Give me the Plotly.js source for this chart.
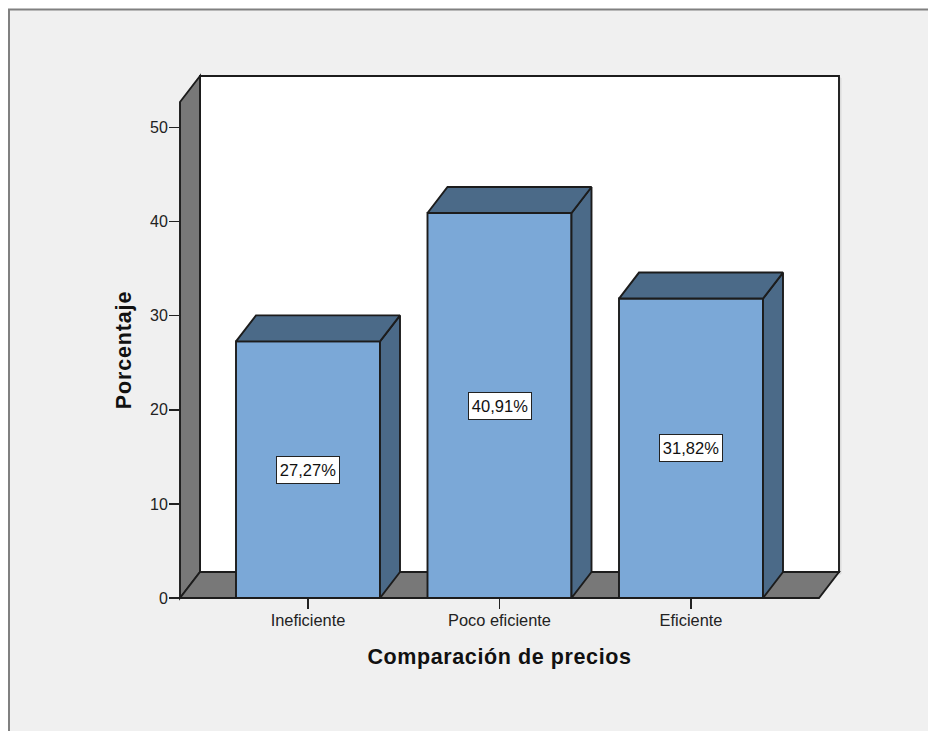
<!DOCTYPE html>
<html>
<head>
<meta charset="utf-8">
<script src="https://cdn.plot.ly/plotly-3.0.1.min.js"></script>
<style>
html,body{margin:0;padding:0;background:#fff;overflow:hidden}
.xtitle{letter-spacing:0.6px}
.ytitle{letter-spacing:0.85px}
</style>
</head>
<body>
<div id="chart" style="width:928px;height:731px"></div>
<script>
const categories = ["Ineficiente", "Poco eficiente", "Eficiente"];
const values = [27.27, 40.91, 31.82];
const valueLabels = ["27,27%", "40,91%", "31,82%"];
const yTicks = [0, 10, 20, 30, 40, 50];

const W = 928, H = 731;
const plotL = 180, plotR = 819, plotT = 102, plotB = 598;
const depthPx = 20, risePx = 26;
const pxPerCat = 191.5, pxPerUnit = 9.41;
const barWidth = 0.752;
const firstCenterPx = 308;

const xMin = (plotL - firstCenterPx) / pxPerCat;
const xMax = (plotR - firstCenterPx) / pxPerCat;
const yMax = (plotB - plotT) / pxPerUnit;
const dx = depthPx / pxPerCat, dy = risePx / pxPerUnit;
const positions = categories.map((_, i) => i);

const INK = "#1c1c1c", FRONT = "#7ba8d7", SHADE = "#4b6a88", WALL = "#787878";
const LW = 1.9;

// paper-space helpers for the chart's frame and walls
const px = v => (v - plotL) / (plotR - plotL);
const py = v => (plotB - v) / (plotB - plotT);
function poly(pts, fill, lineColor, lineWidth) {
  const path = pts.map((p, i) => (i ? "L" : "M") + px(p[0]) + "," + py(p[1])).join(" ") + " Z";
  return {type: "path", xref: "paper", yref: "paper", layer: "below", path,
          fillcolor: fill, line: {color: lineColor, width: lineWidth}};
}
const backL = plotL + depthPx, backR = plotR + depthPx, backT = plotT - risePx, backB = plotB - risePx;
const shapes = [
  poly([[9, 9.5], [W + 5, 9.5], [W + 5, H + 5], [9, H + 5]], "#f0f0f0", "#808080", 2),
  poly([[backL + 2, backT + 2], [backR + 2, backT + 2], [backR + 2, backB + 2], [backL + 2, backB + 2]], "#dcdcdc", "#dcdcdc", 1),
  poly([[backL, backT], [backR, backT], [backR, backB], [backL, backB]], "#ffffff", INK, LW),
  poly([[plotL, plotB], [backL, backB], [backL, backT], [plotL, plotT]], WALL, INK, LW),
  poly([[plotL, plotB], [backL, backB], [backR, backB], [plotR, plotB]], WALL, INK, LW)
];

// top and side faces of each bar, from the data
const topX = [], topY = [], sideX = [], sideY = [];
positions.forEach((c, i) => {
  const l = c - barWidth / 2, r = c + barWidth / 2, v = values[i];
  topX.push(l, l + dx, r + dx, r, l, null);
  topY.push(v, v + dy, v + dy, v, v, null);
  sideX.push(r, r + dx, r + dx, r, r, null);
  sideY.push(0, dy, v + dy, v, 0, null);
});
const faceTrace = (x, y) => ({
  type: "scatter", mode: "lines", x, y, fill: "toself", fillcolor: SHADE,
  line: {color: INK, width: LW}, hoverinfo: "skip", showlegend: false, cliponaxis: false
});

const traces = [
  {type: "bar", x: positions, y: values, width: barWidth, cliponaxis: false,
   marker: {color: FRONT, line: {color: INK, width: LW}}, showlegend: false},
  faceTrace(sideX, sideY),
  faceTrace(topX, topY)
];

const annotations = positions.map((c, i) => ({
  x: c, y: values[i] / 2, xref: "x", yref: "y", text: valueLabels[i], showarrow: false,
  font: {family: "Liberation Sans, Arial, sans-serif", size: 16.5, color: "#111"},
  width: 60, height: 24, borderpad: 1,
  bgcolor: "#ffffff", bordercolor: "#222222", borderwidth: 1
}));

const layout = {
  width: W, height: H,
  margin: {l: plotL, r: W - plotR, t: plotT, b: H - plotB, pad: 0},
  paper_bgcolor: "#ffffff", plot_bgcolor: "rgba(0,0,0,0)",
  showlegend: false, bargap: 0, shapes, annotations,
  font: {family: "Liberation Sans, Arial, sans-serif", color: "#222"},
  xaxis: {
    type: "linear", range: [xMin, xMax], tickmode: "array", tickvals: positions, ticktext: categories,
    ticks: "outside", ticklen: 10, tickwidth: 1.5, tickcolor: "#222", showgrid: false, zeroline: false,
    showline: false, tickfont: {size: 16.4, color: "#222"}, ticklabelstandoff: -3,
    title: {text: "Comparación de precios", standoff: 21, font: {size: 21.5, color: "#111", family: "Liberation Sans, Arial, sans-serif", weight: "bold"}}
  },
  yaxis: {
    range: [0, yMax], tickmode: "array", tickvals: yTicks,
    ticks: "outside", ticklen: 10, tickwidth: 1.5, tickcolor: "#222", showgrid: false, zeroline: false,
    showline: false, tickfont: {size: 16, color: "#222"}, ticklabelstandoff: -2,
    title: {text: "Porcentaje", standoff: 12, font: {size: 21.5, color: "#111", family: "Liberation Sans, Arial, sans-serif", weight: "bold"}}
  }
};
Plotly.newPlot("chart", traces, layout, {displayModeBar: false, staticPlot: true});
</script>
</body>
</html>
